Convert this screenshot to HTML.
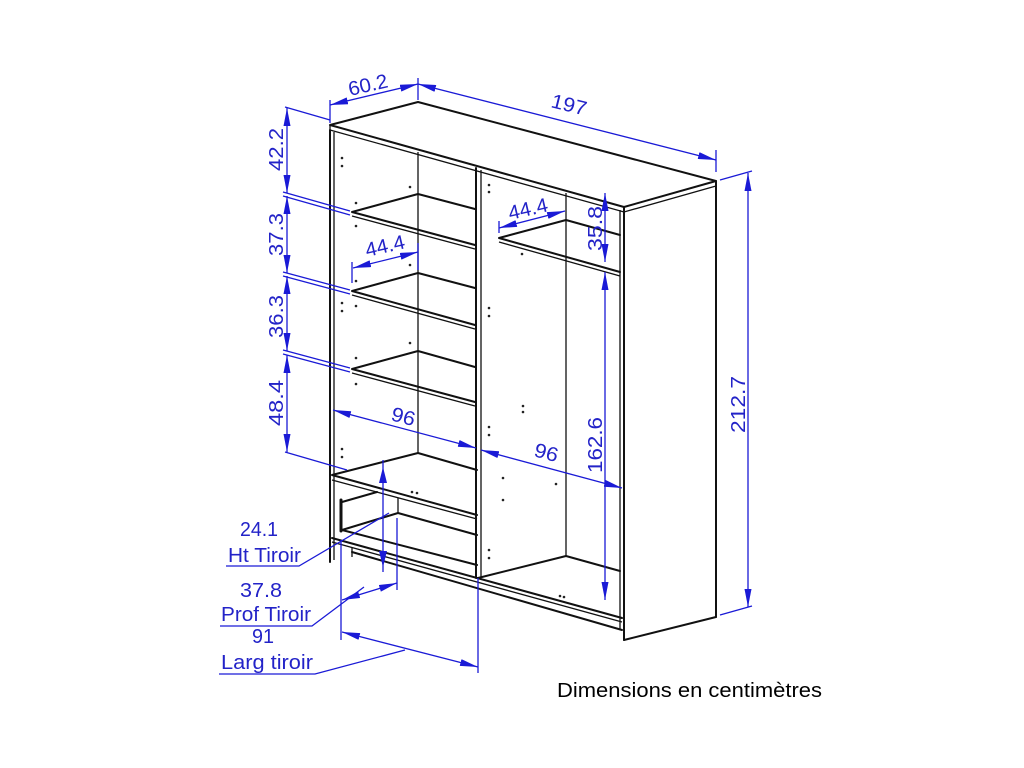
<!DOCTYPE html>
<html><head><meta charset="utf-8"><style>
html,body{margin:0;padding:0;background:#fff;}
svg{display:block;}
.k{stroke:#111;stroke-width:2;fill:none;stroke-linecap:round;stroke-linejoin:round}
.t{stroke:#111;stroke-width:1.3;fill:none}
.b{stroke:#1a1ad6;stroke-width:1.3;fill:none}
.a{fill:#1a1ad6}
.tx{font-family:"Liberation Sans",sans-serif;font-size:20px;fill:#2323c8}
.d{fill:#222}
</style></head><body>
<svg width="1024" height="768" viewBox="0 0 1024 768" xmlns="http://www.w3.org/2000/svg">
<defs>
<marker id="ar" viewBox="0 0 18 7" refX="18" refY="3.5" markerWidth="18" markerHeight="7" markerUnits="userSpaceOnUse" orient="auto-start-reverse"><path d="M0,0 L18,3.5 L0,7 z" fill="#1a1ad6"/></marker>
</defs>
<g>
<path class="k" d="M330,125 L418,102 L716,181 L624,207 L330,125 Z"/>
<path class="t" d="M330,130 L624,212 L716,186"/>
<line class="t" x1="330" y1="125" x2="330" y2="130"/>
<line class="k" x1="330" y1="130" x2="330" y2="562"/>
<line class="t" x1="334" y1="132" x2="334" y2="560"/>
<line class="k" x1="624" y1="207" x2="624" y2="640"/>
<line class="t" x1="620" y1="210" x2="620" y2="630"/>
<line class="k" x1="716" y1="181" x2="716" y2="617"/>
<line class="k" x1="624" y1="640" x2="716" y2="617"/>
<line class="k" x1="476" y1="168" x2="476" y2="578"/>
<line class="t" x1="481" y1="170" x2="481" y2="578"/>
<line class="t" x1="418" y1="152" x2="418" y2="453"/>
<line class="t" x1="566" y1="193" x2="566" y2="556"/>
<path class="k" d="M475,209 L418,194 L352,212 L475,245"/>
<line class="t" x1="352" y1="216" x2="475" y2="249"/>
<path class="k" d="M475,288 L418,273 L352,291 L475,325"/>
<line class="t" x1="352" y1="295" x2="475" y2="329"/>
<path class="k" d="M475,367 L418,351 L352,369 L475,402"/>
<line class="t" x1="352" y1="373" x2="475" y2="406"/>
<path class="k" d="M477,470 L418,453 L332,475 L477,515"/>
<line class="t" x1="332" y1="480" x2="477" y2="519"/>
<path class="k" d="M342,502 L377,492"/>
<line class="k" x1="341" y1="500" x2="341" y2="531" style="stroke-width:3"/>
<path class="k" d="M342,530 L398,513 L477,535"/>
<line class="t" x1="398" y1="498" x2="398" y2="513"/>
<line class="k" x1="342" y1="530" x2="477" y2="565"/>
<line class="k" x1="332" y1="538" x2="622" y2="618"/>
<line class="t" x1="332" y1="542" x2="622" y2="622"/>
<line class="k" x1="352" y1="552" x2="622" y2="630"/>
<line class="t" x1="352" y1="547" x2="352" y2="557"/>
<path class="k" d="M478,578 L566,556 L620,571"/>
<path class="k" d="M620,235 L566,220 L499,238 L620,272"/>
<line class="t" x1="499" y1="242" x2="620" y2="276"/>
<g class="d">
<circle cx="342" cy="158" r="1.3"/><circle cx="342" cy="166" r="1.3"/>
<circle cx="410" cy="187" r="1.3"/><circle cx="356" cy="203" r="1.3"/><circle cx="356" cy="226" r="1.3"/>
<circle cx="410" cy="265" r="1.3"/><circle cx="356" cy="281" r="1.3"/><circle cx="342" cy="303" r="1.3"/><circle cx="342" cy="311" r="1.3"/><circle cx="356" cy="306" r="1.3"/>
<circle cx="410" cy="343" r="1.3"/><circle cx="356" cy="358" r="1.3"/><circle cx="356" cy="384" r="1.3"/>
<circle cx="342" cy="449" r="1.3"/><circle cx="342" cy="457" r="1.3"/>
<circle cx="412" cy="492" r="1.3"/><circle cx="417" cy="493" r="1.3"/>
<circle cx="489" cy="185" r="1.3"/><circle cx="489" cy="192" r="1.3"/><circle cx="522" cy="254" r="1.3"/>
<circle cx="489" cy="308" r="1.3"/><circle cx="489" cy="316" r="1.3"/><circle cx="523" cy="406" r="1.3"/><circle cx="523" cy="412" r="1.3"/>
<circle cx="489" cy="427" r="1.3"/><circle cx="489" cy="435" r="1.3"/><circle cx="503" cy="478" r="1.3"/><circle cx="556" cy="484" r="1.3"/><circle cx="503" cy="500" r="1.3"/>
<circle cx="489" cy="550" r="1.3"/><circle cx="489" cy="558" r="1.3"/><circle cx="560" cy="596" r="1.3"/><circle cx="564" cy="597" r="1.3"/>
</g>
</g>
<g>
<line class="b" x1="330" y1="100" x2="330" y2="123"/>
<line class="b" x1="418" y1="78" x2="418" y2="100"/>
<line class="b" x1="330" y1="105" x2="418" y2="84" marker-start="url(#ar)" marker-end="url(#ar)"/>
<text class="tx" transform="translate(350,96) rotate(-13)" textLength="40" lengthAdjust="spacingAndGlyphs">60.2</text>
<line class="b" x1="418" y1="84" x2="716" y2="160" marker-start="url(#ar)" marker-end="url(#ar)"/>
<line class="b" x1="716" y1="150" x2="716" y2="172"/>
<text class="tx" transform="translate(550,107) rotate(14)" textLength="36" lengthAdjust="spacingAndGlyphs">197</text>
<line class="b" x1="720" y1="180" x2="752" y2="171"/>
<line class="b" x1="720" y1="615" x2="752" y2="606"/>
<line class="b" x1="748" y1="173" x2="748" y2="607" marker-start="url(#ar)" marker-end="url(#ar)"/>
<text class="tx" transform="translate(745,433) rotate(-90)" textLength="57" lengthAdjust="spacingAndGlyphs">212.7</text>
<line class="b" x1="285" y1="107" x2="330" y2="120"/>
<line class="b" x1="287" y1="108" x2="287" y2="193" marker-start="url(#ar)" marker-end="url(#ar)"/>
<line class="b" x1="287" y1="196" x2="287" y2="273" marker-start="url(#ar)" marker-end="url(#ar)"/>
<line class="b" x1="287" y1="276" x2="287" y2="351" marker-start="url(#ar)" marker-end="url(#ar)"/>
<line class="b" x1="287" y1="355" x2="287" y2="452" marker-start="url(#ar)" marker-end="url(#ar)"/>
<path class="b" d="M283,192 L350,211 M283,196 L350,215"/>
<path class="b" d="M283,272 L350,290 M283,276 L350,294"/>
<path class="b" d="M283,350 L350,368 M283,354 L350,372"/>
<line class="b" x1="285" y1="452" x2="347" y2="470"/>
<text class="tx" transform="translate(283,171) rotate(-90)" textLength="43" lengthAdjust="spacingAndGlyphs">42.2</text>
<text class="tx" transform="translate(283,256) rotate(-90)" textLength="43" lengthAdjust="spacingAndGlyphs">37.3</text>
<text class="tx" transform="translate(283,338) rotate(-90)" textLength="43" lengthAdjust="spacingAndGlyphs">36.3</text>
<text class="tx" transform="translate(283,426) rotate(-90)" textLength="46" lengthAdjust="spacingAndGlyphs">48.4</text>
<line class="b" x1="352" y1="262" x2="352" y2="283"/>
<line class="b" x1="418" y1="243" x2="418" y2="270"/>
<line class="b" x1="353" y1="268" x2="418" y2="252" marker-start="url(#ar)" marker-end="url(#ar)"/>
<text class="tx" transform="translate(367,257) rotate(-13)" textLength="40" lengthAdjust="spacingAndGlyphs">44.4</text>
<line class="b" x1="499" y1="221" x2="499" y2="233"/>
<line class="b" x1="499" y1="228" x2="565" y2="211" marker-start="url(#ar)" marker-end="url(#ar)"/>
<text class="tx" transform="translate(510,220) rotate(-13)" textLength="40" lengthAdjust="spacingAndGlyphs">44.4</text>
<line class="b" x1="605" y1="193" x2="605" y2="262" marker-start="url(#ar)" marker-end="url(#ar)"/>
<text class="tx" transform="translate(602,251) rotate(-90)" textLength="45" lengthAdjust="spacingAndGlyphs">35.8</text>
<line class="b" x1="605" y1="272" x2="605" y2="600" marker-start="url(#ar)" marker-end="url(#ar)"/>
<text class="tx" transform="translate(602,473) rotate(-90)" textLength="56" lengthAdjust="spacingAndGlyphs">162.6</text>
<line class="b" x1="333" y1="410" x2="476" y2="448" marker-start="url(#ar)" marker-end="url(#ar)"/>
<text class="tx" transform="translate(390,420) rotate(15)" textLength="24" lengthAdjust="spacingAndGlyphs">96</text>
<line class="b" x1="481" y1="450" x2="622" y2="488" marker-start="url(#ar)" marker-end="url(#ar)"/>
<text class="tx" transform="translate(533,456) rotate(15)" textLength="24" lengthAdjust="spacingAndGlyphs">96</text>
<line class="b" x1="383" y1="460" x2="383" y2="572"/>
<path class="a" d="M383,467 l-4,16 h8 z M383,567 l-4,-16 h8 z"/>
<text class="tx" x="240" y="536" textLength="38" lengthAdjust="spacingAndGlyphs">24.1</text>
<text class="tx" x="228" y="562" textLength="73" lengthAdjust="spacingAndGlyphs">Ht Tiroir</text>
<path class="b" d="M226,566 L299,566 L389,513"/>
<line class="b" x1="341" y1="540" x2="341" y2="640"/>
<line class="b" x1="397" y1="518" x2="397" y2="590"/>
<line class="b" x1="342" y1="600" x2="397" y2="583" marker-start="url(#ar)" marker-end="url(#ar)"/>
<text class="tx" x="240" y="597" textLength="42" lengthAdjust="spacingAndGlyphs">37.8</text>
<text class="tx" x="221" y="621" textLength="90" lengthAdjust="spacingAndGlyphs">Prof Tiroir</text>
<path class="b" d="M220,626 L312,626 L364,587"/>
<line class="b" x1="478" y1="578" x2="478" y2="673"/>
<line class="b" x1="342" y1="632" x2="478" y2="667" marker-start="url(#ar)" marker-end="url(#ar)"/>
<text class="tx" x="252" y="643" textLength="22" lengthAdjust="spacingAndGlyphs">91</text>
<text class="tx" x="221" y="669" textLength="92" lengthAdjust="spacingAndGlyphs">Larg tiroir</text>
<path class="b" d="M219,674 L315,674 L405,650"/>
</g>
<text x="557" y="697" textLength="265" lengthAdjust="spacingAndGlyphs" style="font-family:'Liberation Sans',sans-serif;font-size:20px;fill:#000">Dimensions en centimètres</text>
</svg>
</body></html>
